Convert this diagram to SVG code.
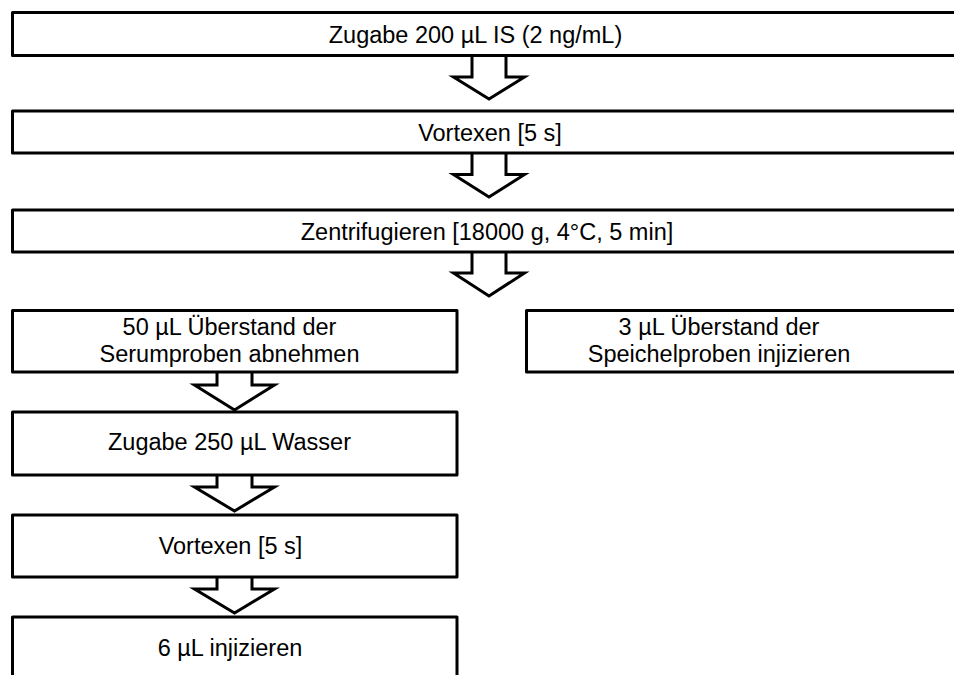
<svg xmlns="http://www.w3.org/2000/svg" width="954" height="675" viewBox="0 0 954 675">
<style>
.box{fill:#fff;stroke:#000;stroke-width:3;stroke-linejoin:round}
.arr{fill:#fff;stroke:#000;stroke-width:3;stroke-linejoin:miter}
text{font-family:"Liberation Sans",Arial,sans-serif;font-size:23.5px;fill:#000;text-anchor:middle}
</style>
<rect width="954" height="675" fill="#fff"/>
<g id="connectors">
<path class="arr" d="M472,55 V77 H453.5 L489,99 L524.5,77 H506 V55"/>
<path class="arr" d="M472,153 V174.5 H453.5 L489,197 L524.5,174.5 H506 V153"/>
<path class="arr" d="M472,252 V273 H453.5 L489,296 L524.5,273 H506 V252"/>
<path class="arr" d="M217,372 V385 H194.5 L234.5,410 L274.5,385 H252 V372"/>
<path class="arr" d="M217,475 V487 H194.5 L234.5,511 L274.5,487 H252 V475"/>
<path class="arr" d="M217,577 V589 H194.5 L234.5,613 L274.5,589 H252 V577"/>
</g>
<g id="n1"><rect class="box" x="12.5" y="12.5" width="960" height="43"/><text x="475.5" y="42.5">Zugabe 200 µL IS (2 ng/mL)</text></g>
<g id="n2"><rect class="box" x="12.5" y="111" width="960" height="42"/><text x="490" y="140.5">Vortexen [5 s]</text></g>
<g id="n3"><rect class="box" x="12.5" y="210" width="960" height="42"/><text x="487" y="239.5">Zentrifugieren [18000 g, 4°C, 5 min]</text></g>
<g id="n4"><rect class="box" x="12.5" y="310.5" width="444.5" height="61.5"/><text x="229.5" y="334.5">50 µL Überstand der</text><text x="229.5" y="362">Serumproben abnehmen</text></g>
<g id="n5"><rect class="box" x="526.5" y="310.5" width="440" height="61.5"/><text x="719" y="334.5">3 µL Überstand der</text><text x="719" y="362">Speichelproben injizieren</text></g>
<g id="n6"><rect class="box" x="12.5" y="412" width="444.5" height="63"/><text x="229.5" y="449.5">Zugabe 250 µL Wasser</text></g>
<g id="n7"><rect class="box" x="12.5" y="515" width="444.5" height="62"/><text x="230.5" y="554">Vortexen [5 s]</text></g>
<g id="n8"><rect class="box" x="12.5" y="617" width="444.5" height="80"/><text x="230" y="655.5">6 µL injizieren</text></g>
</svg>
